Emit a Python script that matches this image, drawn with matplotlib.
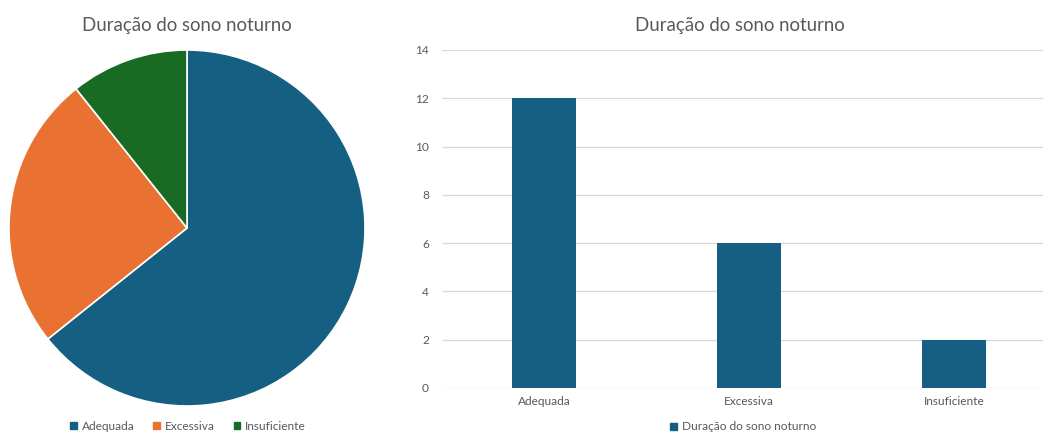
import matplotlib
matplotlib.use("Agg")
import matplotlib.pyplot as plt
from matplotlib.patches import Patch

# data
pie_labels = ["Adequada", "Excessiva", "Insuficiente"]
pie_values = [18, 7, 3]
bar_labels = ["Adequada", "Excessiva", "Insuficiente"]
bar_values = [12, 6, 2]
title = "Duração do sono noturno"

colors = ["#156082", "#E97132", "#196B24"]
txt = "#595959"
W, H = 1043, 434

plt.rcParams["font.family"] = ["Lato", "DejaVu Sans"]

fig = plt.figure(figsize=(W / 100, H / 100), dpi=100)

# pie chart
ax1 = fig.add_axes([9 / W, 28 / H, 356 / W, 356 / H])
ax1.pie(pie_values, colors=colors, startangle=90, counterclock=False, radius=1,
        wedgeprops=dict(edgecolor="white", linewidth=1.2))
ax1.set_xlim(-1, 1)
ax1.set_ylim(-1, 1)
ax1.set_aspect("equal")
fig.text(187 / W, 1 - 25 / H, title, ha="center", va="center",
         fontsize=13.4, color=txt)
handles = [Patch(color=c, label=l) for c, l in zip(colors, pie_labels)]
fig.legend(handles=handles, loc="center", bbox_to_anchor=(188 / W, 1 - 426 / H),
           ncol=3, frameon=False, fontsize=8.6, labelcolor=txt,
           handlelength=0.55, handleheight=0.55, handletextpad=0.4, columnspacing=1.6)

# bar chart
ax2 = fig.add_axes([441.5 / W, 46 / H, 615 / W, 338 / H])
x = range(len(bar_labels))
ax2.bar(x, bar_values, width=0.31, color=colors[0], zorder=3)
ax2.set_xlim(-0.5, len(bar_labels) - 0.5)
ax2.set_ylim(0, 14)
ax2.set_yticks(range(0, 15, 2))
ax2.set_xticks(list(x))
ax2.set_xticklabels(bar_labels)
ax2.grid(axis="y", color="#D9D9D9", linewidth=0.9, zorder=0)
for s in ax2.spines.values():
    s.set_visible(False)
ax2.tick_params(length=0, labelsize=8.6, labelcolor=txt)
ax2.tick_params(axis="y", pad=9)
ax2.tick_params(axis="x", pad=6)
fig.text(740 / W, 1 - 25 / H, title, ha="center", va="center",
         fontsize=13.4, color=txt)
fig.legend(handles=[Patch(color=colors[0], label=title)], loc="center",
           bbox_to_anchor=(743 / W, 1 - 427 / H), frameon=False, fontsize=8.6,
           labelcolor=txt, handlelength=0.55, handleheight=0.55, handletextpad=0.4)

fig.savefig("out.png", dpi=100)
